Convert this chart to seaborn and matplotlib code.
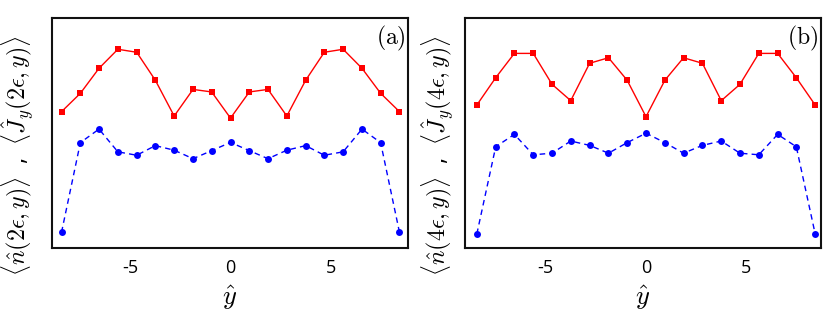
import numpy as np
import pandas as pd
import matplotlib
matplotlib.use("Agg")
import matplotlib.pyplot as plt
import seaborn as sns

# lattice positions (y-hat)
YHAT = [-8.43, -7.49, -6.56, -5.62, -4.68, -3.75, -2.81, -1.87, -0.94, 0.0,
        0.94, 1.87, 2.81, 3.75, 4.68, 5.62, 6.56, 7.49, 8.43]

# panel (a): 2 epsilon   (arbitrary units)
J_A = [0.593, 0.673, 0.782, 0.865, 0.852, 0.730, 0.574, 0.690, 0.679, 0.565,
       0.679, 0.690, 0.574, 0.730, 0.852, 0.865, 0.782, 0.673, 0.593]
N_A = [0.067, 0.458, 0.517, 0.418, 0.403, 0.445, 0.425, 0.388, 0.423, 0.459,
       0.423, 0.388, 0.425, 0.445, 0.403, 0.418, 0.517, 0.458, 0.067]

# panel (b): 4 epsilon
J_B = [0.622, 0.741, 0.847, 0.847, 0.712, 0.641, 0.804, 0.828, 0.730, 0.571,
       0.730, 0.828, 0.804, 0.641, 0.712, 0.847, 0.847, 0.741, 0.622]
N_B = [0.060, 0.440, 0.494, 0.405, 0.412, 0.465, 0.446, 0.412, 0.458, 0.499,
       0.458, 0.412, 0.446, 0.465, 0.412, 0.405, 0.494, 0.440, 0.060]

XTICKS = [-5, 0, 5]
XTICKLABELS = ["-5", "0", "5"]

sns.set_style("white")
plt.rcParams["font.family"] = ["Open Sans", "DejaVu Sans"]
plt.rcParams["mathtext.fontset"] = "cm"
plt.rcParams["text.color"] = "black"
plt.rcParams["xtick.color"] = "black"
plt.rcParams["axes.labelcolor"] = "black"

W, H = 831, 324
fig = plt.figure(figsize=(W / 100, H / 100), dpi=100)


def make_axes(left_px, right_px):
    top_px, bottom_px = 18.3, 247.7
    return fig.add_axes([left_px / W, 1 - bottom_px / H,
                         (right_px - left_px) / W, (bottom_px - top_px) / H])


panels = [
    (make_axes(51.7, 408.3), J_A, N_A, "(a)", "2", (-8.92, 8.87), 18),
    (make_axes(465.0, 821.0), J_B, N_B, "(b)", "4", (-9.02, 8.72), 438),
]

for ax, jy, nn, tag, k, xlim, ylab_x in panels:
    df = pd.DataFrame({"y": YHAT, "J": jy, "n": nn})
    sns.lineplot(data=df, x="y", y="J", ax=ax, color="#ff0000", marker="s",
                 markersize=4.2, markeredgewidth=0, linewidth=1.0)
    sns.lineplot(data=df, x="y", y="n", ax=ax, color="#0000ff", marker="o",
                 markersize=5.0, markeredgewidth=0, linewidth=1.0,
                 linestyle=(0, (4, 3)))
    ax.set_xlim(*xlim)
    ax.set_ylim(0, 1)
    ax.set_yticks([])
    ax.set_xticks(XTICKS)
    ax.set_xticklabels(XTICKLABELS, fontsize=13)
    ax.tick_params(axis="x", length=0, pad=8)
    ax.set_xlabel(r"$\hat{y}$", fontsize=19, labelpad=5)
    ax.set_ylabel("")
    for sp in ax.spines.values():
        sp.set_linewidth(1.5)
        sp.set_color("#111111")
    ax.text(0.992, 0.975, r"$\mathrm{(" + tag[1] + ")}$", transform=ax.transAxes,
            ha="right", va="top", fontsize=17)
    label = (r"$\langle\hat{n}(" + k + r"\epsilon,y)\rangle$  ,  "
             r"$\langle\hat{J}_y(" + k + r"\epsilon,y)\rangle$")
    fig.text(ylab_x / W, 1 - 156 / H, label, rotation=90, ha="center",
             va="center", fontsize=17.3)

fig.savefig("out.png", dpi=100)
